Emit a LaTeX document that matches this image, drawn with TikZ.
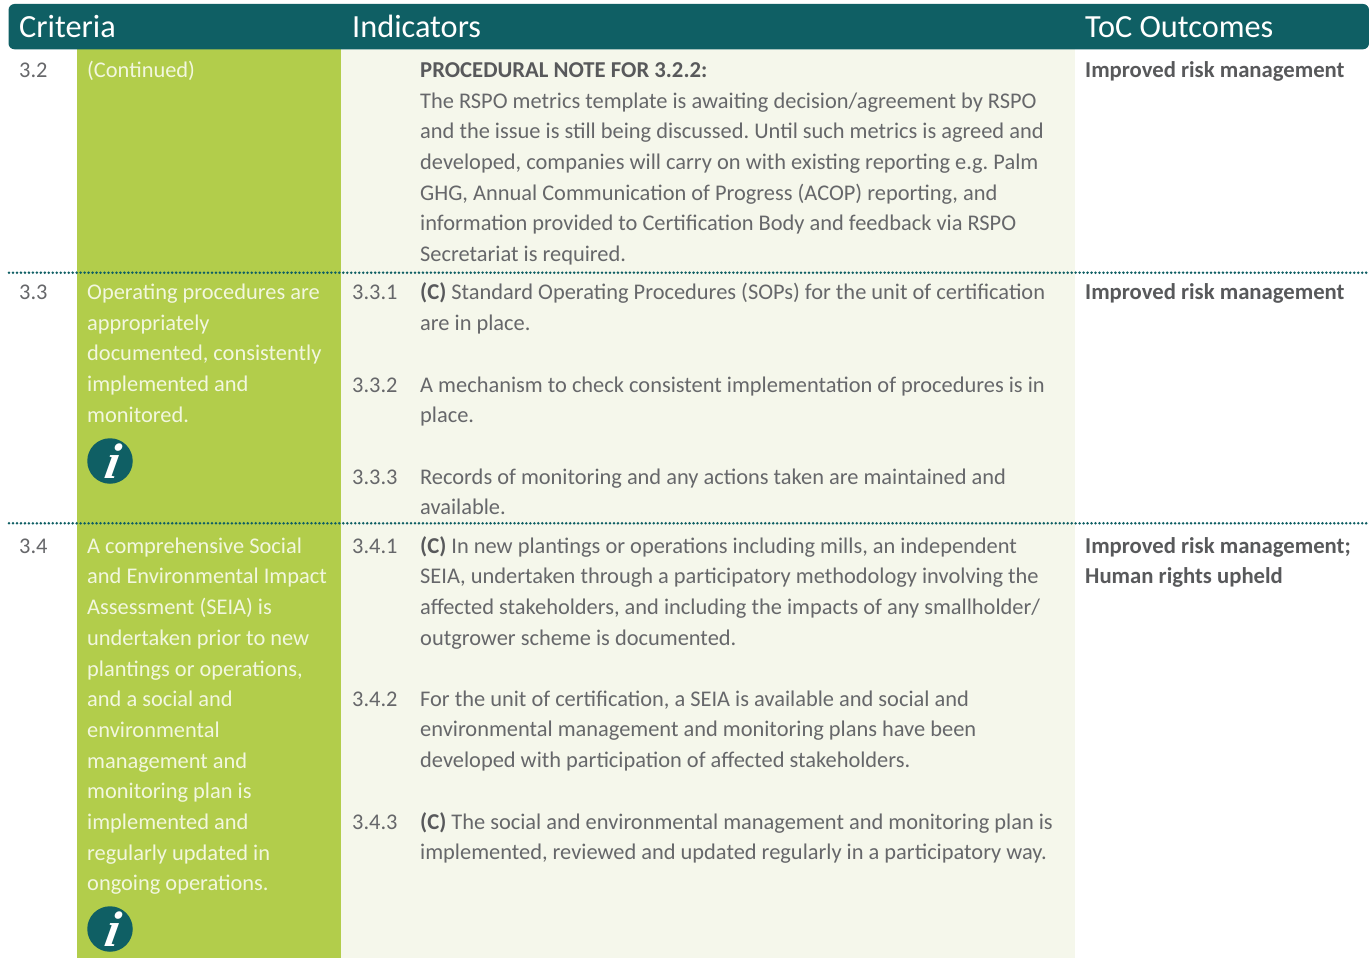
\documentclass[tikz,border=0pt]{standalone}
\usepackage{fontspec}
\setmainfont{Carlito}
\newfontfamily\ifont[BoldItalicFeatures={FakeSlant=0.18}]{Liberation Serif}
\definecolor{teal}{HTML}{0F5F64}
\definecolor{lime}{HTML}{B2CD4B}
\definecolor{pale}{HTML}{F5F7EB}
\definecolor{ink}{HTML}{66676A}
\definecolor{inkb}{HTML}{58595B}
\definecolor{soft}{HTML}{F2F7DF}
\newcommand{\fl}{\rule{0pt}{20pt}}
\newcommand{\bld}[1]{{\fontsize{22.7}{30.7}\selectfont\bfseries\color{inkb}#1}}
\tikzset{
  blk/.style={anchor=north west,inner sep=0pt,align=left,text=ink,
    font=\fontsize{22.4}{30.7}\selectfont\frenchspacing},
  crit/.style={blk,text=soft},
  outc/.style={blk,text=inkb,font=\fontsize{22.7}{30.5}\selectfont\bfseries},
  head/.style={anchor=base west,inner sep=0pt,text=white,font=\fontsize{32.3}{34}\selectfont},
  sep/.style={teal,line width=2.8pt,line cap=round,dash pattern=on 0pt off 3.98pt},
  infodot/.style={circle,fill=teal,minimum size=45.5pt,inner sep=0pt,text=white,
    font=\fontsize{50}{50}\selectfont\ifont\bfseries\itshape}
}
\begin{document}
\begin{tikzpicture}[x=1pt,y=-1pt]
\useasboundingbox (0,0) rectangle (1369,958);
\fill[white] (0,0) rectangle (1369,958);
\fill[lime] (76.5,45) rectangle (341,958);
\fill[pale] (341,45) rectangle (1075,958);
\fill[teal,rounded corners=6pt] (8.5,4) rectangle (1369,49.3);
\coordinate (d1a) at (9,272.7); \coordinate (d1b) at (1369,272.7);
\coordinate (d2a) at (9,523.3); \coordinate (d2b) at (1369,523.3);
\draw[sep] (d1a) -- (d1b);
\draw[sep] (d2a) -- (d2b);
% header
\node[head] (hc) at (19,37.7) {Criteria};
\node[head] (hi) at (352,37.7) {Indicators};
\node[head] (ht) at (1085,37.7) {ToC Outcomes};
% row 3.2
\node[blk] (n32) at (19,57) {\fl 3.2};
\node[crit] (c32) at (87,57) {\fl (Continued)};
\node[blk] (note) at (420,57.2) {\fl\bld{PROCEDURAL NOTE FOR 3.2.2:}\\
The RSPO metrics template is awaiting decision/agreement by RSPO\\
and the issue is still being discussed. Until such metrics is agreed and\\
developed, companies will carry on with existing reporting e.g. Palm\\
GHG, Annual Communication of Progress (ACOP) reporting, and\\
information provided to Certification Body and feedback via RSPO\\
Secretariat is required.};
\node[outc] (o32) at (1085,57) {\fl Improved risk management};
% row 3.3
\node[blk] (n33) at (19,279) {\fl 3.3};
\node[crit] (c33) at (87,279.2) {\fl Operating procedures are\\
appropriately\\
documented, consistently\\
implemented and\\
monitored.};
\node[infodot] (i33) at (110,461) {i};
\node[blk] (n331) at (352,279) {\fl 3.3.1};
\node[blk] (t331) at (420,279.2) {\fl\bld{(C)} Standard Operating Procedures (SOPs) for the unit of certification\\
are in place.};
\node[blk] (n332) at (352,372) {\fl 3.3.2};
\node[blk] (t332) at (420,372) {\fl A mechanism to check consistent implementation of procedures is in\\
place.};
\node[blk] (n333) at (352,464) {\fl 3.3.3};
\node[blk] (t333) at (420,464) {\fl Records of monitoring and any actions taken are maintained and\\
available.};
\node[outc] (o33) at (1085,279) {\fl Improved risk management};
% row 3.4
\node[blk] (n34) at (19,533) {\fl 3.4};
\node[crit] (c34) at (87,533) {\fl A comprehensive Social\\
and Environmental Impact\\
Assessment (SEIA) is\\
undertaken prior to new\\
plantings or operations,\\
and a social and\\
environmental\\
management and\\
monitoring plan is\\
implemented and\\
regularly updated in\\
ongoing operations.};
\node[infodot] (i34) at (110,929) {i};
\node[blk] (n341) at (352,533) {\fl 3.4.1};
\node[blk] (t341) at (420,533) {\fl\bld{(C)} In new plantings or operations including mills, an independent\\
SEIA, undertaken through a participatory methodology involving the\\
affected stakeholders, and including the impacts of any smallholder/\\
outgrower scheme is documented.};
\node[blk] (n342) at (352,686) {\fl 3.4.2};
\node[blk] (t342) at (420,686) {\fl For the unit of certification, a SEIA is available and social and\\
environmental management and monitoring plans have been\\
developed with participation of affected stakeholders.};
\node[blk] (n343) at (352,809) {\fl 3.4.3};
\node[blk] (t343) at (420,809) {\fl\bld{(C)} The social and environmental management and monitoring plan is\\
implemented, reviewed and updated regularly in a participatory way.};
\node[outc] (o34) at (1085,533) {\fl Improved risk management;\\Human rights upheld};
\end{tikzpicture}
\end{document}
